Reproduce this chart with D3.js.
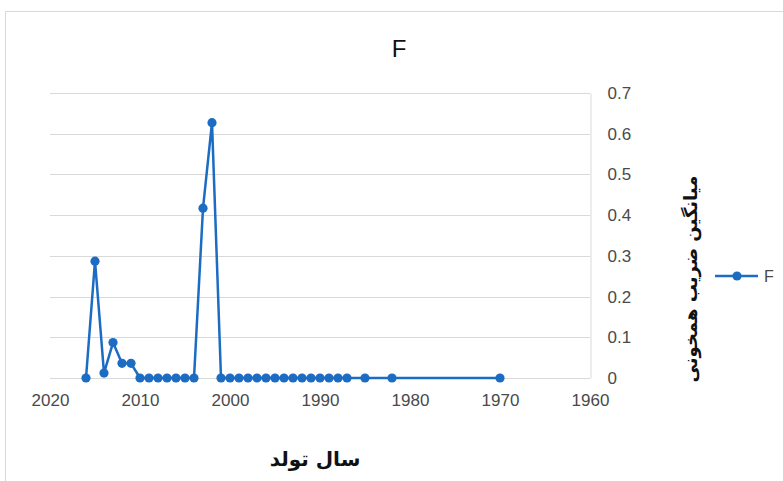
<!doctype html>
<meta charset="utf-8">
<style>
  body { margin: 0; background: #fff; }
  text { font-family: "Liberation Sans", Arial, sans-serif; }
  .fa { font-family: "DejaVu Sans", sans-serif; font-weight: bold; }
</style>
<body>
<div id="chart"></div>

<script src="https://d3js.org/d3.v7.min.js"></script>
<script>

// birth year -> mean inbreeding coefficient
const years = [2016, 2015, 2014, 2013, 2012, 2011,
  2010, 2009, 2008, 2007, 2006, 2005, 2004,
  2003, 2002,
  2001, 2000, 1999, 1998, 1997, 1996, 1995, 1994, 1993, 1992, 1991, 1990, 1989, 1988, 1987,
  1985, 1982, 1970]
const fValues = [0, 0.287, 0.012, 0.087, 0.036, 0.036,
  0, 0, 0, 0, 0, 0, 0,
  0.417, 0.627,
  0, 0, 0, 0, 0, 0, 0, 0, 0, 0, 0, 0, 0, 0, 0,
  0, 0, 0]
const xTicks = [2020, 2010, 2000, 1990, 1980, 1970, 1960]
const yTicks = [0, 0.1, 0.2, 0.3, 0.4, 0.5, 0.6, 0.7]
const seriesName = "F"
const chartTitle = "F"
const xTitle = "سال تولد"
const yTitle = "میانگین ضریب همخونی"

const W = 783, H = 481
const blue = "#1c6cc4"
const grid = "#d9d9d9"

const svg = d3.select("#chart").append("svg")
  .attr("width", W)
  .attr("height", H)

// chart frame
svg.append("rect")
  .attr("x", 5.5).attr("y", 11.5)
  .attr("width", W + 10).attr("height", H + 10)
  .attr("fill", "none")
  .attr("stroke", grid)

const x = d3.scaleLinear().domain([2020, 1960]).range([50, 590])
const y = d3.scaleLinear().domain([0, 0.7]).range([378, 93])

// gridlines
svg.append("g")
  .selectAll("line")
  .data(yTicks)
  .join("line")
  .attr("x1", x(2020)).attr("x2", x(1960))
  .attr("y1", d => Math.round(y(d)) + 0.5)
  .attr("y2", d => Math.round(y(d)) + 0.5)
  .attr("stroke", grid)

// y axis on the right
const yAxis = svg.append("g")
  .attr("transform", "translate(" + (x(1960) + 0.5) + ",0)")
  .call(d3.axisRight(y).tickValues(yTicks).tickSize(0).tickPadding(17)
    .tickFormat(d => d === 0 ? "0" : d3.format(".1f")(d)))
yAxis.select(".domain").attr("stroke", grid)
yAxis.selectAll("text").attr("font-size", 17).attr("fill", "#4a4a4a")
  .attr("font-family", "Liberation Sans, Arial, sans-serif")

// x axis
const xAxis = svg.append("g")
  .attr("transform", "translate(0," + y(0) + ")")
  .call(d3.axisBottom(x).tickValues(xTicks).tickSize(0).tickPadding(16)
    .tickFormat(d3.format("d")))
xAxis.select(".domain").remove()
xAxis.selectAll("text").attr("font-size", 17).attr("fill", "#4a4a4a")
  .attr("font-family", "Liberation Sans, Arial, sans-serif")

const data = years.map((yr, i) => ({ year: yr, f: fValues[i] }))

const line = d3.line()
  .x(d => x(d.year))
  .y(d => y(d.f))

svg.append("path")
  .datum(data)
  .attr("d", line)
  .attr("fill", "none")
  .attr("stroke", blue)
  .attr("stroke-width", 2.5)
  .attr("stroke-linejoin", "round")

svg.append("g")
  .selectAll("circle")
  .data(data)
  .join("circle")
  .attr("cx", d => x(d.year))
  .attr("cy", d => y(d.f))
  .attr("r", 4.6)
  .attr("fill", blue)

// title
svg.append("text")
  .attr("x", 399).attr("y", 57)
  .attr("text-anchor", "middle")
  .attr("font-size", 24)
  .attr("fill", "#111")
  .text(chartTitle)

// x axis title
svg.append("text")
  .attr("class", "fa")
  .attr("x", 315).attr("y", 466)
  .attr("text-anchor", "middle")
  .attr("font-size", 20)
  .attr("fill", "#111")
  .text(xTitle)

// y axis title
svg.append("text")
  .attr("class", "fa")
  .attr("transform", "translate(697,279) rotate(-90)")
  .attr("text-anchor", "middle")
  .attr("font-size", 18)
  .attr("fill", "#111")
  .text(yTitle)

// legend
const lg = svg.append("g").attr("transform", "translate(715,276)")
lg.append("line")
  .attr("x1", 0).attr("x2", 43)
  .attr("stroke", blue).attr("stroke-width", 2.5)
lg.append("circle").attr("cx", 22).attr("r", 4.6).attr("fill", blue)
lg.append("text")
  .attr("x", 49).attr("y", 6)
  .attr("font-size", 16)
  .attr("fill", "#4a4a4a")
  .text(seriesName)

</script>
</body>
